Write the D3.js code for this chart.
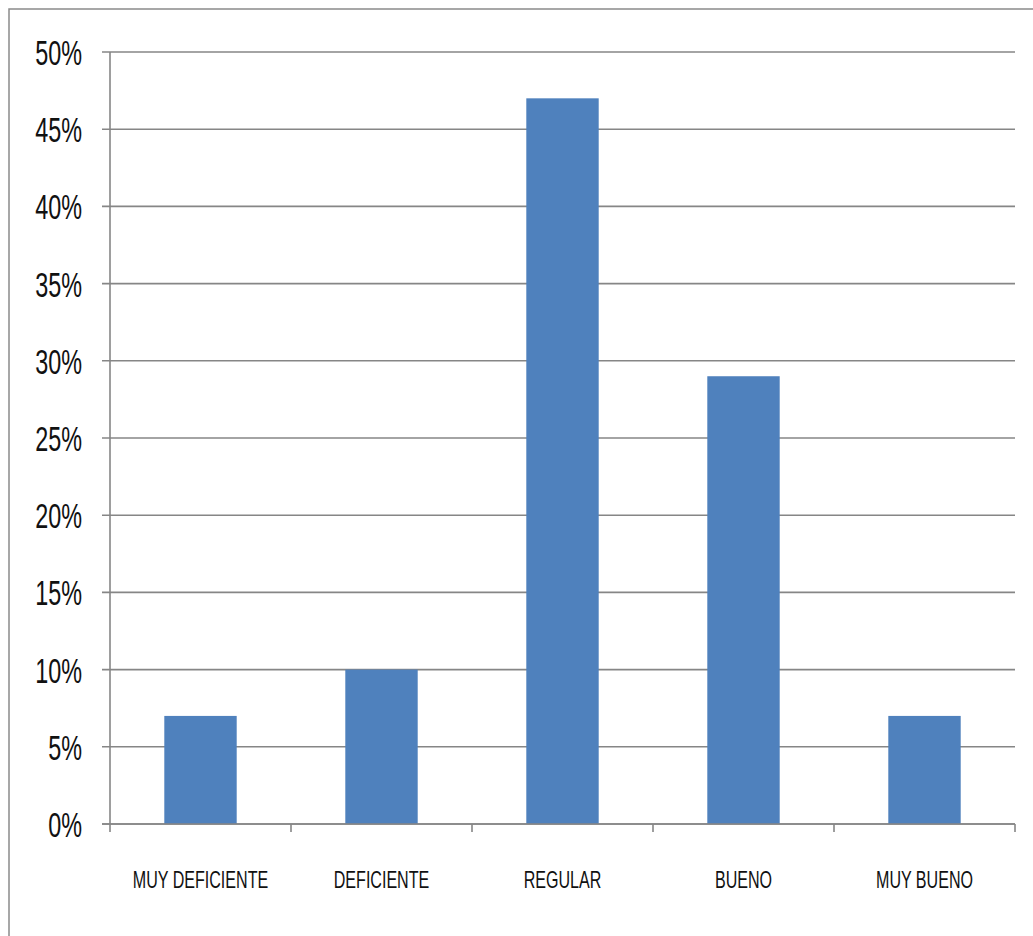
<!DOCTYPE html>
<html>
<head>
<meta charset="utf-8">
<script src="https://d3js.org/d3.v7.min.js"></script>
<style>
  body { margin: 0; background: #fff; }
  text { font-family: "Liberation Sans", Arial, sans-serif; fill: #111; }
</style>
</head>
<body>
<div class="chart"></div>
<script>
// data
const categories = ["MUY DEFICIENTE", "DEFICIENTE", "REGULAR", "BUENO", "MUY BUENO"];
const values = [0.07, 0.10, 0.47, 0.29, 0.07];
const yTicks = [0, 0.05, 0.10, 0.15, 0.20, 0.25, 0.30, 0.35, 0.40, 0.45, 0.50];

const width = 1033, height = 936;
const margin = { top: 52, right: 18, bottom: 112, left: 110 };

const svg = d3.select(".chart").append("svg")
    .attr("width", width)
    .attr("height", height);

// outer frame
svg.append("rect")
    .attr("x", 9).attr("y", 9)
    .attr("width", 1040).attr("height", 940)
    .attr("fill", "none")
    .attr("stroke", "#8a8a8a")
    .attr("stroke-width", 1.5);

const x = d3.scaleBand()
    .domain(categories)
    .range([margin.left, width - margin.right])
    .paddingInner(0.6)
    .paddingOuter(0.3);

const y = d3.scaleLinear()
    .domain([0, 0.5])
    .range([height - margin.bottom, margin.top]);

const gridColor = "#868686";

// gridlines + y ticks
const grid = svg.append("g").attr("class", "grid");
grid.selectAll("line")
    .data(yTicks)
    .enter().append("line")
    .attr("x1", margin.left - 8)
    .attr("x2", width - margin.right)
    .attr("y1", d => y(d))
    .attr("y2", d => y(d))
    .attr("stroke", gridColor)
    .attr("stroke-width", 1.6);

// y labels (narrow, tall like the original)
svg.append("g").attr("class", "ylabels")
    .selectAll("text")
    .data(yTicks)
    .enter().append("text")
    .attr("transform", d => `translate(82,${y(d) + 13}) scale(0.65,1)`)
    .attr("text-anchor", "end")
    .style("font-size", "36px")
    .text(d => d3.format(".0%")(d));

// bars
svg.append("g").attr("class", "bars")
    .selectAll("rect")
    .data(values)
    .enter().append("rect")
    .attr("x", (d, i) => x(categories[i]))
    .attr("width", x.bandwidth())
    .attr("y", d => y(d))
    .attr("height", d => y(0) - y(d))
    .attr("fill", "#4f81bd");

// y axis line
svg.append("line")
    .attr("x1", margin.left).attr("x2", margin.left)
    .attr("y1", y(0.5)).attr("y2", y(0))
    .attr("stroke", gridColor)
    .attr("stroke-width", 1.6);

// x axis line
svg.append("line")
    .attr("x1", margin.left - 8).attr("x2", width - margin.right)
    .attr("y1", y(0)).attr("y2", y(0))
    .attr("stroke", gridColor)
    .attr("stroke-width", 1.6);

// category boundary ticks
const step = x.step();
const bounds = d3.range(categories.length + 1).map(i => margin.left + i * step);
svg.append("g").attr("class", "xticks")
    .selectAll("line")
    .data(bounds)
    .enter().append("line")
    .attr("x1", d => d).attr("x2", d => d)
    .attr("y1", y(0)).attr("y2", y(0) + 8)
    .attr("stroke", gridColor)
    .attr("stroke-width", 1.6);

// x labels
svg.append("g").attr("class", "xlabels")
    .selectAll("text")
    .data(categories)
    .enter().append("text")
    .attr("transform", d => `translate(${x(d) + x.bandwidth() / 2},888) scale(0.67,1)`)
    .attr("text-anchor", "middle")
    .style("font-size", "24px")
    .text(d => d);
</script>
</body>
</html>
